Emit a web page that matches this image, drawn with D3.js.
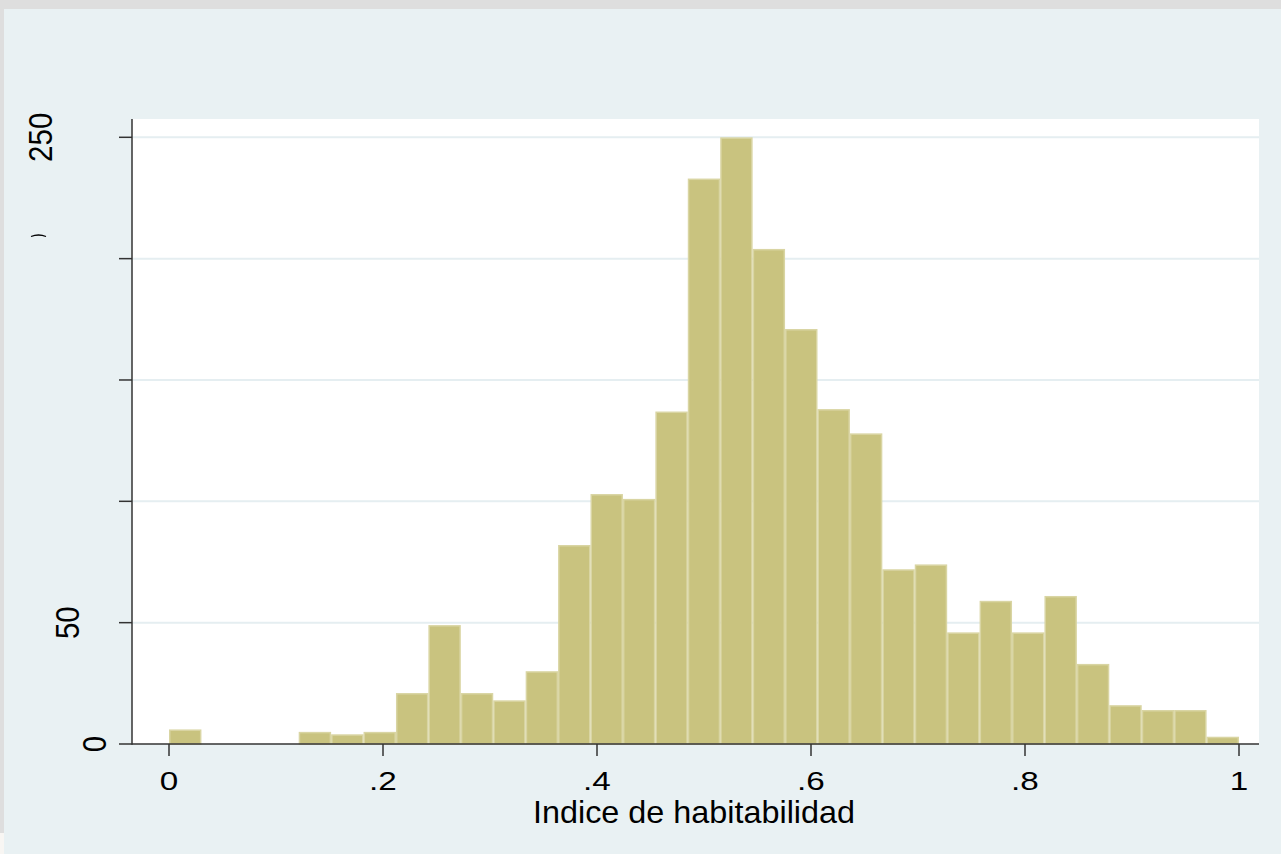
<!DOCTYPE html>
<html>
<head>
<meta charset="utf-8">
<script src="https://cdn.jsdelivr.net/npm/d3@7"></script>
<style>
  html, body { margin: 0; padding: 0; background: #dedede; }
  svg { display: block; }
  text { font-family: "Liberation Sans", Arial, Helvetica, sans-serif; fill: #000; }
</style>
</head>
<body>
<svg id="chart" width="1281" height="854"></svg>
<script>
// ---- data ----
const binCount = 33;               // equal-width bins on [0, 1]
const counts = [6, 0, 0, 0, 5, 4, 5, 21, 49, 21, 18, 30, 82, 103, 101, 137, 233, 250,
                204, 171, 138, 128, 72, 74, 46, 59, 46, 61, 33, 16, 14, 14, 3];
const xTicks = [0, 0.2, 0.4, 0.6, 0.8, 1];
const xTickLabels = ["0", ".2", ".4", ".6", ".8", "1"];
const yTicks = [0, 50, 100, 150, 200, 250];
const yTickLabels = ["0", "50", "", "", "", "250"];
const xTitle = "Indice de habitabilidad";

// ---- layout ----
const W = 1281, H = 854;
const plot = { left: 132, right: 1259, top: 119, bottom: 744 };
const svg = d3.select("#chart");

const x = d3.scaleLinear().domain([0, 1]).range([169, 1239]);
const y = d3.scaleLinear().domain([0, 250]).range([744, 137.3]);

// backgrounds
svg.append("rect").attr("x", 0).attr("y", 0).attr("width", W).attr("height", H).attr("fill", "#dedede");
svg.append("rect").attr("x", 0).attr("y", 833).attr("width", 5).attr("height", H - 833).attr("fill", "#f8f6f3");
svg.append("rect").attr("x", 4).attr("y", 9).attr("width", W - 4).attr("height", H - 9).attr("fill", "#e9f1f3");
svg.append("rect").attr("x", plot.left).attr("y", plot.top)
  .attr("width", plot.right - plot.left).attr("height", plot.bottom - plot.top).attr("fill", "#ffffff");

// gridlines
svg.append("g").selectAll("line").data(yTicks.filter(d => d > 0)).join("line")
  .attr("x1", plot.left).attr("x2", plot.right)
  .attr("y1", d => y(d)).attr("y2", d => y(d))
  .attr("stroke", "#e5eef1").attr("stroke-width", 2);

// bars
const bins = counts.map((c, i) => ({ x0: i / binCount, x1: (i + 1) / binCount, c }));
svg.append("g").selectAll("rect").data(bins.filter(b => b.c > 0)).join("rect")
  .attr("x", b => x(b.x0) + 0.75)
  .attr("width", b => x(b.x1) - x(b.x0) - 1.5)
  .attr("y", b => y(b.c) + 0.75)
  .attr("height", b => y(0) - y(b.c) - 0.75)
  .attr("fill", "#c9c37f")
  .attr("stroke", "#d9d5a3")
  .attr("stroke-width", 1.5);

// axes
const axisColor = "#333333";
svg.append("line").attr("x1", plot.left).attr("x2", plot.left)
  .attr("y1", plot.top).attr("y2", plot.bottom + 0.75)
  .attr("stroke", axisColor).attr("stroke-width", 1.5);
svg.append("line").attr("x1", plot.left).attr("x2", plot.right)
  .attr("y1", plot.bottom).attr("y2", plot.bottom)
  .attr("stroke", axisColor).attr("stroke-width", 1.5);

// y ticks
svg.append("g").selectAll("line").data(yTicks).join("line")
  .attr("x1", 119).attr("x2", plot.left)
  .attr("y1", d => y(d)).attr("y2", d => y(d))
  .attr("stroke", axisColor).attr("stroke-width", 1.5);

// x ticks
svg.append("g").selectAll("line").data(xTicks).join("line")
  .attr("x1", d => x(d)).attr("x2", d => x(d))
  .attr("y1", plot.bottom).attr("y2", 756)
  .attr("stroke", axisColor).attr("stroke-width", 1.5);

// x tick labels
svg.append("g").selectAll("text").data(xTicks).join("text")
  .attr("transform", d => `translate(${x(d)},790) scale(1.28,1)`)
  .attr("text-anchor", "middle")
  .attr("font-size", 26)
  .text((d, i) => xTickLabels[i]);

// y tick labels (vertical, staggered as in the original)
svg.append("g").selectAll("text").data(yTicks.map((d, i) => ({ v: d, s: yTickLabels[i] })).filter(o => o.s))
  .join("text")
  .attr("transform", o => `translate(${106 - (o.s.length - 1) * 27},${y(o.v)}) rotate(-90) scale(1,1.1)`)
  .attr("text-anchor", "middle")
  .attr("font-size", 29.5)
  .text(o => o.s);

// small clipped glyph remnant near the 200 label
svg.append("path")
  .attr("d", "M31,236.5 Q38.5,233.5 46,236.5")
  .attr("fill", "none").attr("stroke", "#000").attr("stroke-width", 1.3);

// x title
svg.append("text")
  .attr("x", 694).attr("y", 823)
  .attr("text-anchor", "middle")
  .attr("font-size", 31.5)
  .attr("textLength", 322).attr("lengthAdjust", "spacingAndGlyphs")
  .text(xTitle);
</script>
</body>
</html>
